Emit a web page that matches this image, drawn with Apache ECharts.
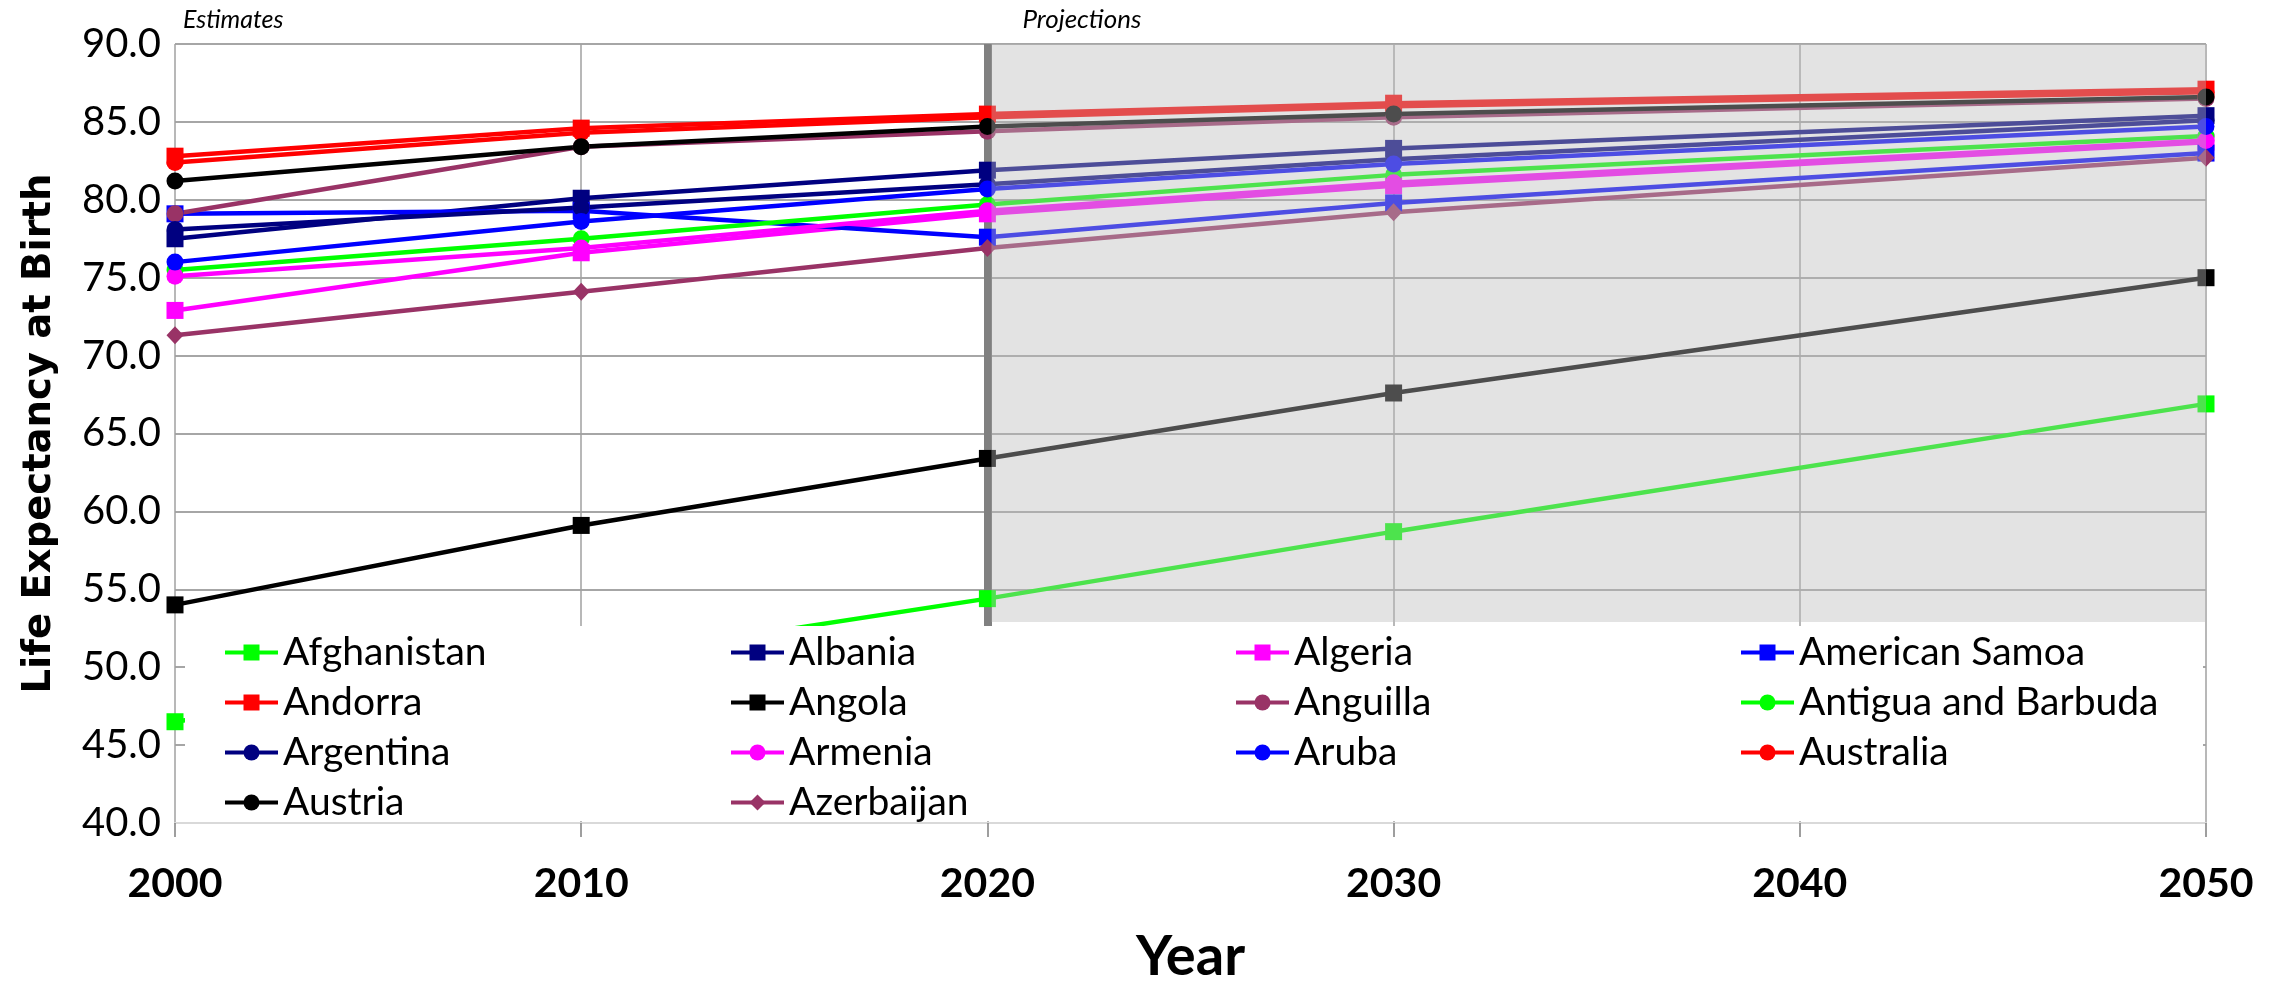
<!DOCTYPE html>
<html>
<head>
<meta charset="utf-8">
<title>Life Expectancy at Birth</title>
<script src="https://cdn.jsdelivr.net/npm/echarts@6/dist/echarts.min.js"></script>
<style>
  html, body { margin: 0; padding: 0; background: #ffffff; }
  #chart { width: 2282px; height: 988px; }
</style>
</head>
<body>
<div id="chart"></div>
<script>
// Years with published values (estimates to 2020, projections after)
const years = [2000, 2010, 2020, 2030, 2050];

// Life expectancy at birth, one array per country, aligned with `years`
const afghanistan       = [46.5, 50.4, 54.4, 58.7, 66.9];
const albania           = [77.5, 80.1, 81.9, 83.3, 85.4];
const algeria           = [72.9, 76.6, 79.1, 80.9, 83.7];
const americanSamoa     = [79.1, 79.3, 77.6, 79.8, 83.0];
const andorra           = [82.8, 84.6, 85.5, 86.2, 87.1];
const angola            = [54.0, 59.1, 63.4, 67.6, 75.0];
const anguilla          = [79.1, 83.4, 84.4, 85.3, 86.5];
const antiguaBarbuda    = [75.5, 77.5, 79.7, 81.6, 84.1];
const argentina         = [78.1, 79.5, 81.0, 82.6, 85.1];
const armenia           = [75.1, 76.9, 79.3, 81.1, 83.8];
const aruba             = [76.0, 78.6, 80.7, 82.3, 84.7];
const australia         = [82.4, 84.3, 85.3, 86.0, 86.9];
const austria           = [81.2, 83.4, 84.7, 85.5, 86.6];
const azerbaijan        = [71.3, 74.1, 76.9, 79.2, 82.7];

const countryNames = [
  'Afghanistan', 'Albania', 'Algeria', 'American Samoa', 'Andorra', 'Angola', 'Anguilla',
  'Antigua and Barbuda', 'Argentina', 'Armenia', 'Aruba', 'Australia', 'Austria', 'Azerbaijan'
];
const countryValues = [
  afghanistan, albania, algeria, americanSamoa, andorra, angola, anguilla,
  antiguaBarbuda, argentina, armenia, aruba, australia, austria, azerbaijan
];

// Axis ranges and tick labels
const yearMin = 2000, yearMax = 2050, yearStep = 10;
const lifeMin = 40, lifeMax = 90, lifeStep = 5;
const projectionStart = 2020;
const periodLabels = ['Estimates', 'Projections'];

// Styling per series (colour + marker)
const seriesStyle = {
  'Afghanistan':         { color: '#00ff00', symbol: 'rect' },
  'Albania':             { color: '#000080', symbol: 'rect' },
  'Algeria':             { color: '#ff00ff', symbol: 'rect' },
  'American Samoa':      { color: '#0000ff', symbol: 'rect' },
  'Andorra':             { color: '#ff0000', symbol: 'rect' },
  'Angola':              { color: '#000000', symbol: 'rect' },
  'Anguilla':            { color: '#993366', symbol: 'circle' },
  'Antigua and Barbuda': { color: '#00ff00', symbol: 'circle' },
  'Argentina':           { color: '#000080', symbol: 'circle' },
  'Armenia':             { color: '#ff00ff', symbol: 'circle' },
  'Aruba':               { color: '#0000ff', symbol: 'circle' },
  'Australia':           { color: '#ff0000', symbol: 'circle' },
  'Austria':             { color: '#000000', symbol: 'circle' },
  'Azerbaijan':          { color: '#993366', symbol: 'diamond' }
};

const chart = echarts.init(document.getElementById('chart'), null, { renderer: 'canvas' });

const series = countryNames.map((name, i) => {
  const st = seriesStyle[name];
  const s = {
    name: name,
    type: 'line',
    z: 2,
    data: years.map((yr, j) => [yr, countryValues[i][j]]),
    symbol: st.symbol,
    symbolSize: st.symbol === 'diamond' ? [17, 18] : 17,
    showSymbol: true,
    color: st.color,
    lineStyle: { color: st.color, width: 4.5 },
    itemStyle: { color: st.color, borderWidth: 0 },
    emphasis: { disabled: true },
    animation: false
  };
  if (i === 0) {
    // thick divider at the start of the projection period (under the lines)
    s.markLine = {
      z: 1,
      silent: true,
      symbol: ['none', 'none'],
      label: { show: false },
      lineStyle: { color: '#808080', width: 8, type: 'solid' },
      emphasis: { disabled: true },
      data: [[{ coord: [projectionStart, 52.5] }, { coord: [projectionStart, lifeMax] }]],
      animation: false
    };
    // translucent shading over the projection period (above the lines)
    s.markArea = {
      z: 3,
      silent: true,
      label: { show: false },
      itemStyle: { color: 'rgba(186,186,186,0.41)', borderWidth: 0 },
      emphasis: { disabled: true },
      data: [[{ xAxis: projectionStart + 0.1, yAxis: lifeMax }, { xAxis: yearMax, yAxis: 52.9 }]],
      animation: false
    };
  }
  return s;
});

// Legend laid out as four columns
const legendColumns = [
  ['Afghanistan', 'Andorra', 'Argentina', 'Austria'],
  ['Albania', 'Angola', 'Armenia', 'Azerbaijan'],
  ['Algeria', 'Anguilla', 'Aruba'],
  ['American Samoa', 'Antigua and Barbuda', 'Australia']
];
const legendLeft = [223, 729, 1234, 1739];
const legends = legendColumns.map((col, c) => ({
  data: col,
  orient: 'vertical',
  left: legendLeft[c],
  top: 633,
  z: 20,
  padding: 0,
  itemGap: 11,
  itemWidth: 53,
  itemHeight: 20,
  selectedMode: false,
  lineStyle: { width: 4 },
  itemStyle: { borderWidth: 0 },
  textStyle: { fontFamily: 'Lato', fontSize: 39, color: '#000000', padding: 0 }
}));

chart.setOption({
  animation: false,
  backgroundColor: '#ffffff',
  grid: { left: 175, right: 76, top: 44, bottom: 165, containLabel: false, outerBoundsMode: 'none' },
  xAxis: {
    type: 'value',
    min: yearMin, max: yearMax, interval: yearStep,
    name: 'Year',
    nameLocation: 'middle',
    nameGap: 106,
    nameTextStyle: { fontFamily: 'Lato', fontWeight: 'bold', fontSize: 56, color: '#000000' },
    axisLine: { show: true, onZero: false, lineStyle: { color: '#d9d9d9', width: 2 } },
    axisTick: { show: true, inside: false, length: 14, lineStyle: { color: '#7f7f7f', width: 1.5 } },
    axisLabel: {
      margin: 40, fontFamily: 'Lato', fontWeight: 'bold', fontSize: 41, color: '#000000',
      formatter: v => String(v)
    },
    splitLine: { show: true, lineStyle: { color: '#a0a0a0', width: 1.5 } }
  },
  yAxis: {
    type: 'value',
    min: lifeMin, max: lifeMax, interval: lifeStep,
    name: 'Life Expectancy at Birth',
    nameLocation: 'middle',
    nameRotate: 90,
    nameGap: 116,
    nameTextStyle: { fontFamily: 'DejaVu Sans', fontWeight: 'bold', fontSize: 38.5, color: '#000000' },
    axisLine: { show: false },
    axisTick: { show: false },
    axisLabel: {
      margin: 14, fontFamily: 'Lato', fontSize: 40, color: '#000000',
      formatter: v => v.toFixed(1)
    },
    splitLine: { show: true, lineStyle: { color: '#a6a6a6', width: 2 } }
  },
  legend: legends,
  tooltip: { show: false },
  series: series
});

// Legend backdrop and period captions, placed from the grid's coordinates
const px = (x, y) => chart.convertToPixel({ gridIndex: 0 }, [x, y]);
const boxTL = px(yearMin, 52.65);
const boxBR = px(yearMax, lifeMin);
const topLeft = px(yearMin, lifeMax);
const projTop = px(projectionStart, lifeMax);

chart.setOption({
  graphic: {
    elements: [
      {
        type: 'rect', z: 10, silent: true,
        shape: { x: boxTL[0] + 10, y: boxTL[1], width: (boxBR[0] - 3) - (boxTL[0] + 10), height: (boxBR[1] - 2) - boxTL[1] },
        style: { fill: '#ffffff' }
      },
      {
        type: 'text', z: 10, silent: true, x: topLeft[0] + 8, y: topLeft[1] - 24,
        style: { text: periodLabels[0], font: 'italic 25px Lato', fill: '#000000', verticalAlign: 'middle', align: 'left' }
      },
      {
        type: 'text', z: 10, silent: true, x: projTop[0] + 35, y: projTop[1] - 24,
        style: { text: periodLabels[1], font: 'italic 26px Lato', fill: '#000000', verticalAlign: 'middle', align: 'left' }
      }
    ]
  }
});
</script>
</body>
</html>
